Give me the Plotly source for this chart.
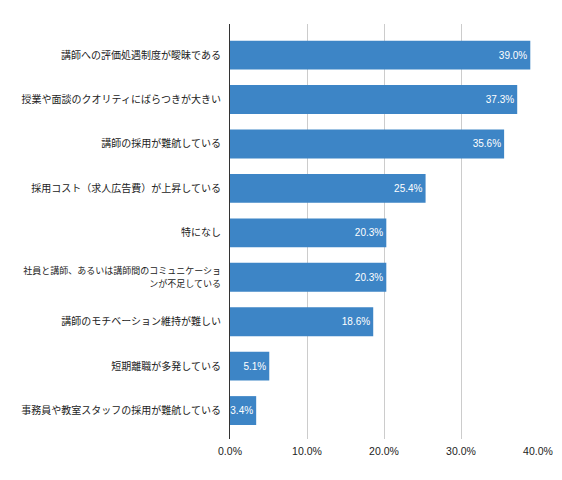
import plotly.graph_objects as go

# categories, top to bottom
labels = [
    "講師への評価処遇制度が曖昧である",
    "授業や面談のクオリティにばらつきが大きい",
    "講師の採用が難航している",
    "採用コスト（求人広告費）が上昇している",
    "特になし",
    "<span style='font-size:9px'>社員と講師、あるいは講師間のコミュニケーショ</span><br>"
    "<span style='font-size:9px'>ンが不足している</span>",
    "講師のモチベーション維持が難しい",
    "短期離職が多発している",
    "事務員や教室スタッフの採用が難航している",
]
values = [39.0, 37.3, 35.6, 25.4, 20.3, 20.3, 18.6, 5.1, 3.4]
tick_vals = [0, 10, 20, 30, 40]
tick_text = ["0.0%", "10.0%", "20.0%", "30.0%", "40.0%"]

font = "Liberation Sans, Arial, Noto Sans CJK JP, sans-serif"

fig = go.Figure(go.Bar(
    x=values,
    y=labels,
    orientation="h",
    marker=dict(color="#3d85c6", line=dict(width=0)),
    text=[f"{v:.1f}%" for v in values],
    textposition="inside",
    insidetextanchor="end",
    textangle=0,
    constraintext="none",
    textfont=dict(color="white", size=10, family=font),
    width=0.65,
))

# body margin of the page shifts everything by 8px, compensated here
fig.update_layout(
    width=562, height=480,
    margin=dict(l=222, r=32, t=16, b=49),
    plot_bgcolor="white",
    paper_bgcolor="white",
    font=dict(family=font, size=10, color="#222"),
    showlegend=False,
)
fig.update_xaxes(
    range=[0, 40], tickvals=tick_vals, ticktext=tick_text,
    showgrid=True, gridcolor="#cccccc", gridwidth=1,
    zeroline=False, showline=False, ticks="",
    automargin=False, ticklabelstandoff=4,
    tickfont=dict(size=10.5, color="#222"),
)
fig.update_yaxes(
    categoryorder="array", categoryarray=labels,
    range=[8.64, -0.70],
    showline=True, linecolor="#333333", linewidth=1,
    ticks="", ticklabelstandoff=6,
    automargin=False,
    tickfont=dict(size=10, color="#222"),
)

fig.write_html("out.html")
